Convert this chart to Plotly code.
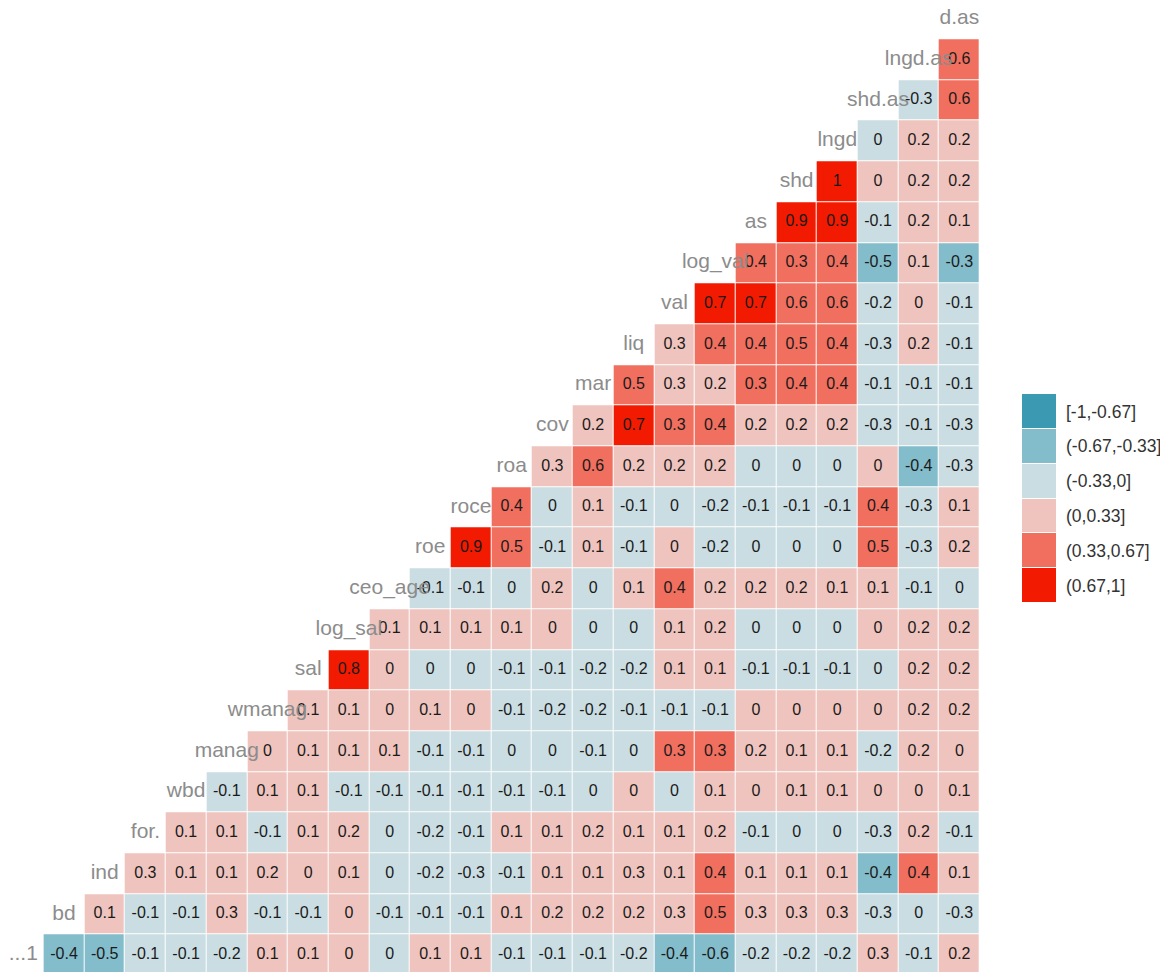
import plotly.graph_objects as go

# ---------------- data ----------------
variables = ["...1", "bd", "ind", "for.", "wbd", "manag", "wmanag", "sal", "log_sal",
             "ceo_age", "roe", "roce", "roa", "cov", "mar", "liq", "val", "log_val",
             "as", "shd", "lngd", "shd.as", "lngd.as", "d.as"]

# each row: correlations of that variable with every later variable (estimated values)
row_x1 = [-0.4, -0.5, -0.1, -0.1, -0.2, 0.1, 0.1, 0.02, -0.02, 0.1, 0.1, -0.1, -0.1, -0.1,
          -0.2, -0.4, -0.6, -0.2, -0.2, -0.2, 0.3, -0.1, 0.2]
row_bd = [0.1, -0.1, -0.1, 0.3, -0.1, -0.1, 0.02, -0.1, -0.1, -0.1, 0.1, 0.2, 0.2, 0.2,
          0.3, 0.5, 0.3, 0.3, 0.3, -0.3, -0.02, -0.3]
row_ind = [0.3, 0.1, 0.1, 0.2, 0.02, 0.1, -0.02, -0.2, -0.3, -0.1, 0.1, 0.1, 0.3, 0.1,
           0.4, 0.1, 0.1, 0.1, -0.4, 0.4, 0.1]
row_for = [0.1, 0.1, -0.1, 0.1, 0.2, -0.02, -0.2, -0.1, 0.1, 0.1, 0.2, 0.1, 0.1, 0.2,
           -0.1, -0.02, -0.02, -0.3, 0.2, -0.1]
row_wbd = [-0.1, 0.1, 0.1, -0.1, -0.1, -0.1, -0.1, -0.1, -0.1, -0.02, 0.02, -0.02, 0.1,
           0.02, 0.1, 0.1, 0.02, 0.02, 0.1]
row_manag = [0.02, 0.1, 0.1, 0.1, -0.1, -0.1, -0.02, -0.02, -0.1, -0.02, 0.34, 0.34, 0.2,
             0.1, 0.1, -0.2, 0.2, 0.02]
row_wmanag = [0.1, 0.1, 0.02, 0.1, 0.02, -0.1, -0.2, -0.2, -0.1, -0.1, -0.1, 0.02, 0.02,
              0.02, 0.02, 0.2, 0.2]
row_sal = [0.8, 0.02, -0.02, -0.02, -0.1, -0.1, -0.2, -0.2, 0.1, 0.1, -0.1, -0.1, -0.1,
           -0.02, 0.2, 0.2]
row_log_sal = [0.1, 0.1, 0.1, 0.1, 0.02, -0.02, -0.02, 0.1, 0.2, -0.02, -0.02, -0.02,
               0.02, 0.2, 0.2]
row_ceo_age = [-0.1, -0.1, -0.02, 0.2, -0.02, 0.1, 0.4, 0.2, 0.2, 0.2, 0.1, 0.1, -0.1, -0.02]
row_roe = [0.9, 0.5, -0.1, 0.1, -0.1, 0.02, -0.2, -0.02, -0.02, -0.02, 0.5, -0.3, 0.2]
row_roce = [0.4, -0.02, 0.1, -0.1, -0.02, -0.2, -0.1, -0.1, -0.1, 0.4, -0.3, 0.1]
row_roa = [0.3, 0.6, 0.2, 0.2, 0.2, -0.02, -0.02, -0.02, 0.02, -0.4, -0.3]
row_cov = [0.2, 0.7, 0.34, 0.4, 0.2, 0.2, 0.2, -0.3, -0.1, -0.3]
row_mar = [0.5, 0.3, 0.2, 0.34, 0.4, 0.4, -0.1, -0.1, -0.1]
row_liq = [0.3, 0.4, 0.4, 0.5, 0.4, -0.3, 0.2, -0.1]
row_val = [0.7, 0.7, 0.6, 0.6, -0.2, 0.02, -0.1]
row_log_val = [0.4, 0.34, 0.4, -0.5, 0.1, -0.34]
row_as = [0.9, 0.9, -0.1, 0.2, 0.1]
row_shd = [0.96, 0.02, 0.2, 0.2]
row_lngd = [-0.02, 0.2, 0.2]
row_shd_as = [-0.3, 0.6]
row_lngd_as = [0.6]

rows = [row_x1, row_bd, row_ind, row_for, row_wbd, row_manag, row_wmanag, row_sal,
        row_log_sal, row_ceo_age, row_roe, row_roce, row_roa, row_cov, row_mar, row_liq,
        row_val, row_log_val, row_as, row_shd, row_lngd, row_shd_as, row_lngd_as]

bin_labels = ["[-1,-0.67]", "(-0.67,-0.33]", "(-0.33,0]", "(0,0.33]", "(0.33,0.67]", "(0.67,1]"]
bin_edges = [-1, -0.67, -0.33, 0, 0.33, 0.67, 1]
palette = ["#3B9AB2", "#83BCCA", "#CADDE2", "#EFC4BE", "#F06F5F", "#F21A00"]

FONT = "Liberation Sans, Arial, Helvetica, sans-serif"


def bin_of(v):
    for i in range(6):
        if v <= bin_edges[i + 1]:
            return i
    return 5


def fmt(v):
    r = round(v, 1)
    if r == 0:
        return "0"
    return f"{r:g}"


n = len(variables)
z, cd = [], []
lx, ly, lt = [], [], []
for r, vals in enumerate(rows):
    z.append([None] * r + [bin_of(v) for v in vals])
    cd.append([None] * r + list(vals))
    for j, v in enumerate(vals):
        lx.append(r + 1 + j)
        ly.append(r)
        lt.append(fmt(v))

colorscale = []
for i, c in enumerate(palette):
    colorscale.append([i / 6, c])
    colorscale.append([(i + 1) / 6, c])

fig = go.Figure()

fig.add_trace(go.Heatmap(
    x=list(range(1, n)), y=list(range(0, n - 1)), z=z, customdata=cd,
    colorscale=colorscale, zmin=-0.5, zmax=5.5, showscale=False,
    xgap=1, ygap=1, hovertemplate="%{customdata:.2f}<extra></extra>",
    xaxis="x", yaxis="y",
))

# cell value labels
fig.add_trace(go.Scatter(
    x=lx, y=ly, mode="text", text=lt, textposition="middle center",
    textfont=dict(size=16, color="#1a1a1a", family=FONT),
    hoverinfo="skip", showlegend=False, xaxis="x", yaxis="y",
))

# diagonal variable names
fig.add_trace(go.Scatter(
    x=list(range(n)), y=list(range(n)), mode="text", text=variables,
    textposition="middle center", cliponaxis=False,
    textfont=dict(size=21, color="#8c8c8c", family=FONT),
    hoverinfo="skip", showlegend=False, xaxis="x", yaxis="y",
))

# legend as a small heatmap
fig.add_trace(go.Heatmap(
    x=[0], y=list(range(6)), z=[[i] for i in range(6)],
    colorscale=colorscale, zmin=-0.5, zmax=5.5, showscale=False,
    ygap=1, hoverinfo="skip", xaxis="x2", yaxis="y2",
))

# page body has an 8px margin: figure is placed at (8, 8)
OFF = 8
W, H = 1168 - OFF, 972 - OFF
unit = 40.7
x_lo = 1 - (64 - OFF) / unit
x_hi = x_lo + (980 - OFF) / unit
y_lo = -17 / unit
y_hi = y_lo + H / unit

leg_x0, leg_x1 = 1022 - OFF, 1056 - OFF
leg_y0, leg_y1 = 394 - OFF, 603 - OFF

fig.update_layout(
    width=W, height=H,
    margin=dict(l=0, r=0, t=0, b=0),
    paper_bgcolor="white", plot_bgcolor="white",
    showlegend=False,
    font=dict(family=FONT),
    xaxis=dict(domain=[0, (980 - OFF) / W], range=[x_lo, x_hi], showgrid=False,
               zeroline=False, showticklabels=False, ticks="", fixedrange=True),
    yaxis=dict(domain=[0, 1], range=[y_lo, y_hi], showgrid=False, zeroline=False,
               showticklabels=False, ticks="", fixedrange=True),
    xaxis2=dict(domain=[leg_x0 / W, leg_x1 / W], range=[-0.5, 0.5], showgrid=False,
                zeroline=False, showticklabels=False, ticks="", fixedrange=True,
                anchor="y2"),
    yaxis2=dict(domain=[(H - leg_y1) / H, (H - leg_y0) / H], range=[5.5, -0.5],
                showgrid=False, zeroline=False, side="right", tickvals=list(range(6)),
                ticktext=bin_labels, ticks="", ticklabelstandoff=9, automargin=False,
                anchor="x2", tickfont=dict(size=17.5, color="#333333", family=FONT),
                fixedrange=True),
)

fig.write_html("out.html")
